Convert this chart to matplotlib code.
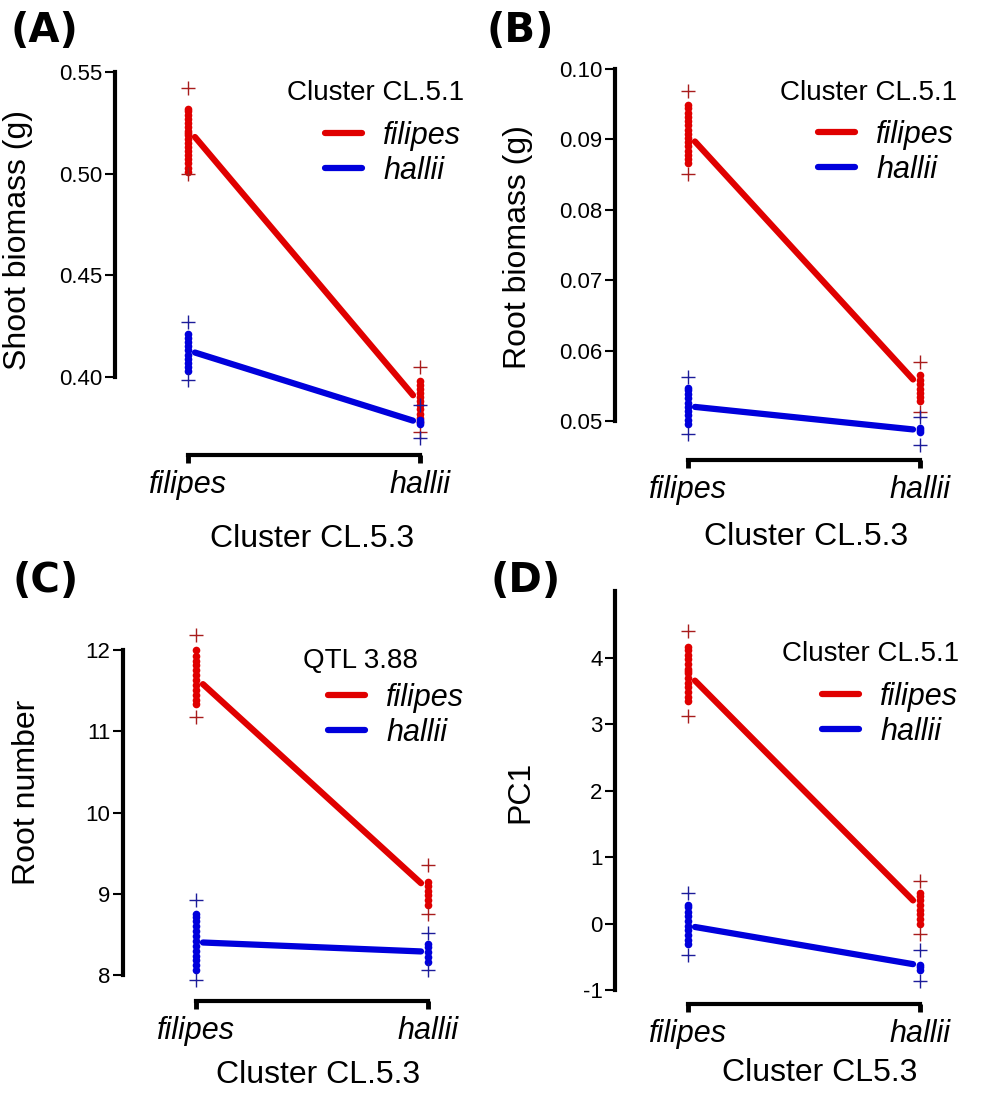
import matplotlib
matplotlib.use("Agg")
import matplotlib.pyplot as plt
from matplotlib.lines import Line2D

plt.rcParams["font.family"] = ["Liberation Sans", "DejaVu Sans"]

RED = "#e00000"
BLUE = "#0000dc"
RED_PLUS = "#a81c1c"
BLUE_PLUS = "#1c1c9a"

GENOTYPES = ["filipes", "hallii"]

# (A) shoot biomass
shoot_mean_red = [0.518, 0.391]
shoot_mean_blue = [0.412, 0.3785]
shoot_dots_red = [[0.501, 0.503, 0.505, 0.507, 0.509, 0.511, 0.513, 0.515, 0.517,
                   0.519, 0.520, 0.521, 0.523, 0.525, 0.527, 0.529, 0.531, 0.532],
                  [0.378, 0.380, 0.382, 0.384, 0.386, 0.388, 0.390, 0.392, 0.394,
                   0.396, 0.398]]
shoot_dots_blue = [[0.403, 0.405, 0.407, 0.409, 0.411, 0.413, 0.415, 0.417, 0.419, 0.421],
                   [0.377, 0.378, 0.379]]
shoot_plus_red = [[0.542, 0.500], [0.405, 0.373]]
shoot_plus_blue = [[0.427, 0.3985], [0.386, 0.370]]

# (B) root biomass
root_mean_red = [0.0897, 0.0559]
root_mean_blue = [0.0520, 0.0488]
root_dots_red = [[0.0866, 0.0872, 0.0878, 0.0884, 0.0890, 0.0896, 0.0902, 0.0908,
                  0.0914, 0.0920, 0.0926, 0.0932, 0.0938, 0.0944, 0.0949],
                 [0.0528, 0.0534, 0.0540, 0.0546, 0.0552, 0.0558, 0.0565]]
root_dots_blue = [[0.0496, 0.0502, 0.0508, 0.0514, 0.0520, 0.0526, 0.0532, 0.0538,
                   0.0544, 0.0547],
                  [0.0484, 0.0487, 0.0490]]
root_plus_red = [[0.0968, 0.0851], [0.0584, 0.0513]]
root_plus_blue = [[0.0562, 0.0482], [0.0506, 0.0466]]

# (C) root number
rootn_mean_red = [11.58, 9.13]
rootn_mean_blue = [8.40, 8.29]
rootn_dots_red = [[11.33, 11.39, 11.45, 11.51, 11.57, 11.63, 11.69, 11.75, 11.81,
                   11.87, 11.93, 12.0],
                  [8.86, 8.92, 8.98, 9.04, 9.10, 9.14]]
rootn_dots_blue = [[8.06, 8.12, 8.18, 8.24, 8.30, 8.36, 8.42, 8.48, 8.54, 8.60,
                    8.66, 8.72, 8.75],
                   [8.16, 8.22, 8.28, 8.34, 8.38]]
rootn_plus_red = [[12.19, 11.18], [9.36, 8.75]]
rootn_plus_blue = [[8.92, 7.94], [8.52, 8.06]]

# (D) PC1
pc1_mean_red = [3.66, 0.35]
pc1_mean_blue = [-0.05, -0.61]
pc1_dots_red = [[3.35, 3.42, 3.49, 3.56, 3.63, 3.70, 3.77, 3.81, 3.84, 3.91, 3.98,
                 4.05, 4.12, 4.17],
                [0.0, 0.07, 0.14, 0.21, 0.28, 0.35, 0.42, 0.46]]
pc1_dots_blue = [[-0.31, -0.24, -0.17, -0.10, -0.03, 0.04, 0.11, 0.18, 0.25, 0.28],
                 [-0.70, -0.66, -0.62]]
pc1_plus_red = [[4.40, 3.13], [0.64, -0.16]]
pc1_plus_blue = [[0.46, -0.47], [-0.39, -0.86]]

W, H = 985, 1093
fig = plt.figure(figsize=(W / 100, H / 100), dpi=100)
inch = fig.dpi_scale_trans


def px(x, y):
    # pixel position measured from the top-left corner -> inches from bottom-left
    return x / 100, (H - y) / 100


def panel(box, ylim, yticks, ylabels, ybounds, letter, ylabel, header, xlabel,
          mean_red, mean_blue, dots_red, dots_blue, plus_red, plus_blue, lay):
    left, top, right, bottom = box
    ax = fig.add_axes([left / W, 1 - bottom / H, (right - left) / W, (bottom - top) / H])
    ax.set_xlim(1 - (lay["fil"] - left) / 232, 2 + (right - lay["fil"] - 232) / 232)
    ax.set_ylim(*ylim)

    xs = [1, 2]
    for dots, plus, color, pcol in [(dots_red, plus_red, RED, RED_PLUS),
                                    (dots_blue, plus_blue, BLUE, BLUE_PLUS)]:
        for x, d, p in zip(xs, dots, plus):
            ax.plot([x] * len(d), d, "o", ms=5.5, mew=0, color=color, zorder=3)
            ax.plot([x] * len(p), p, "+", ms=10, mew=1, color=pcol, zorder=3)
    ax.plot([1.03, 1.97], mean_red, color=RED, lw=4.5, solid_capstyle="round", zorder=2)
    ax.plot([1.03, 1.97], mean_blue, color=BLUE, lw=4.5, solid_capstyle="round", zorder=2)

    for s in ["top", "right"]:
        ax.spines[s].set_visible(False)
    ax.spines["left"].set_linewidth(3)
    ax.spines["bottom"].set_linewidth(3)
    ax.spines["left"].set_bounds(*ybounds)
    ax.spines["bottom"].set_bounds(1, 2)

    ax.set_yticks(yticks, ylabels)
    ax.tick_params(axis="y", direction="out", length=7, width=1.5, labelsize=16, pad=2)
    ax.set_xticks(xs, GENOTYPES)
    ax.tick_params(axis="x", direction="out", length=6, width=3.5, labelsize=22, pad=5)
    for t in ax.get_xticklabels():
        t.set_fontstyle("italic")

    ax.set_ylabel(ylabel, fontsize=23)
    ax.yaxis.set_label_coords(*px(*lay["ylab"]), transform=inch)
    ax.set_xlabel(xlabel, fontsize=23)
    ax.xaxis.set_label_coords(*px(*lay["xlab"]), transform=inch)
    ax.xaxis.label.set_verticalalignment("center")

    handles = [Line2D([], [], color=RED, lw=4.5, solid_capstyle="round"),
               Line2D([], [], color=BLUE, lw=4.5, solid_capstyle="round")]
    leg = ax.legend(handles, GENOTYPES, loc="upper left",
                    bbox_to_anchor=px(*lay["leg"]), bbox_transform=inch,
                    frameon=False, borderpad=0, borderaxespad=0, labelspacing=0.15,
                    handlelength=1.2, handletextpad=0.7, fontsize=22)
    for t in leg.get_texts():
        t.set_fontstyle("italic")

    fig.text(*px(*lay["head"]), header, transform=inch, fontsize=20, va="center", ha="left")
    fig.text(*px(*lay["letter"]), letter, transform=inch, fontsize=29, fontweight="bold",
             family="DejaVu Sans", va="center", ha="left")
    return ax


panel((115, 62, 480, 455), (0.3616, 0.5549), [0.40, 0.45, 0.50, 0.55],
      ["0.40", "0.45", "0.50", "0.55"], (0.40, 0.55), "(A)", "Shoot biomass (g)",
      "Cluster CL.5.1", "Cluster CL.5.3",
      shoot_mean_red, shoot_mean_blue, shoot_dots_red, shoot_dots_blue,
      shoot_plus_red, shoot_plus_blue,
      dict(fil=188, ylab=(33, 240), xlab=(312, 539), leg=(325, 121),
           head=(287, 93), letter=(10, 31)))

panel((615, 57, 980, 460), (0.04446, 0.1017), [0.05, 0.06, 0.07, 0.08, 0.09, 0.10],
      ["0.05", "0.06", "0.07", "0.08", "0.09", "0.10"], (0.05, 0.10), "(B)",
      "Root biomass (g)", "Cluster CL.5.1", "Cluster CL.5.3",
      root_mean_red, root_mean_blue, root_dots_red, root_dots_blue,
      root_plus_red, root_plus_blue,
      dict(fil=688, ylab=(533, 247), xlab=(806, 537), leg=(818, 120),
           head=(780, 93), letter=(487, 31)))

panel((123, 612, 488, 1001), (7.68, 12.468), [8, 9, 10, 11, 12],
      ["8", "9", "10", "11", "12"], (8, 12), "(C)", "Root number",
      "QTL 3.88", "Cluster CL.5.3",
      rootn_mean_red, rootn_mean_blue, rootn_dots_red, rootn_dots_blue,
      rootn_plus_red, rootn_plus_blue,
      dict(fil=196, ylab=(42, 792), xlab=(318, 1075), leg=(328, 683),
           head=(303, 661), letter=(13, 581)))

panel((615, 585, 980, 1004), (-1.21, 5.10), [-1, 0, 1, 2, 3, 4],
      ["-1", "0", "1", "2", "3", "4"], (-1, 5.01), "(D)", "PC1",
      "Cluster CL.5.1", "Cluster CL5.3",
      pc1_mean_red, pc1_mean_blue, pc1_dots_red, pc1_dots_blue,
      pc1_plus_red, pc1_plus_blue,
      dict(fil=688, ylab=(535, 792), xlab=(820, 1073), leg=(822, 682),
           head=(782, 654), letter=(490, 581)))

fig.savefig("out.png", dpi=100)
